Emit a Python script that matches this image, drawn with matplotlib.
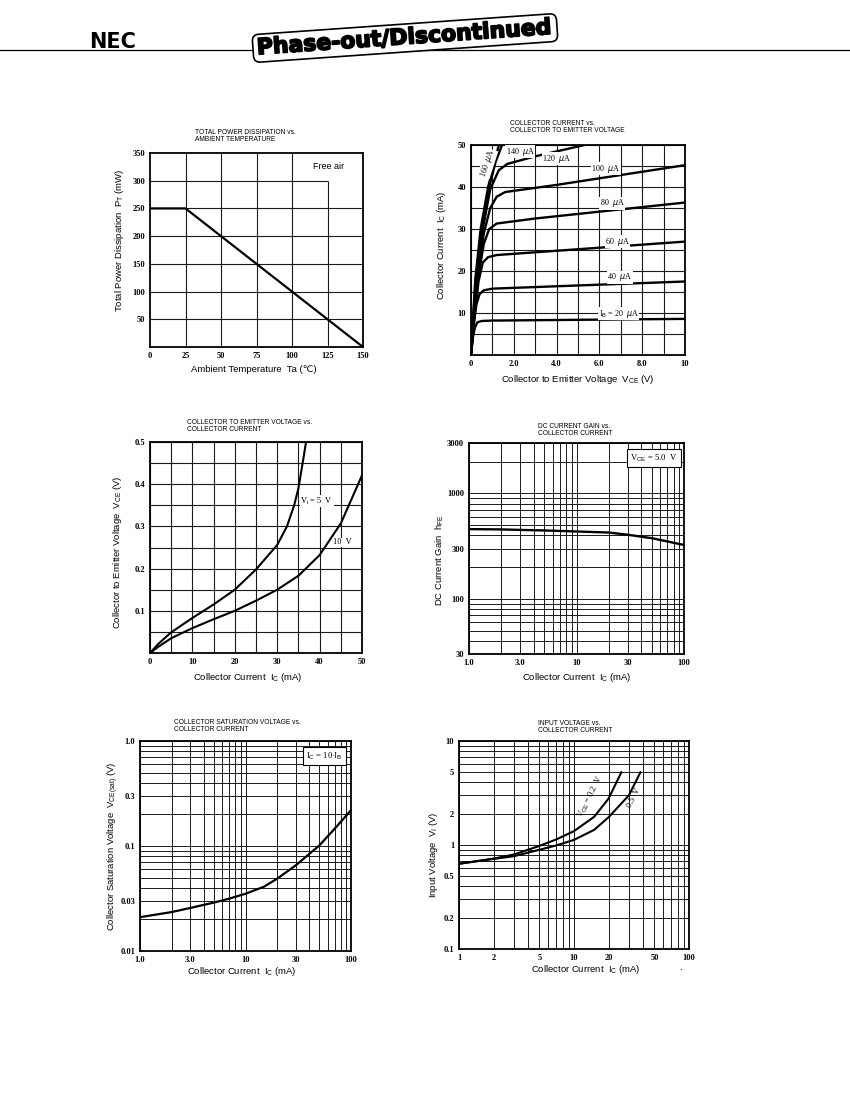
import numpy as np
import matplotlib
matplotlib.use('Agg')
import matplotlib.pyplot as plt
import matplotlib.patheffects as pe

plt.rcParams['font.family'] = ['Liberation Serif', 'DejaVu Serif']
plt.rcParams['mathtext.fontset'] = 'custom'
plt.rcParams['mathtext.rm'] = 'Liberation Sans'

# --- data ---
# total power dissipation vs ambient temperature
ta = [0, 25, 150]
pt = [250, 250, 0]

# collector current vs VCE, one curve per base current
vce_20 = [0, 0.08, 0.18, 0.3, 0.5, 1.0, 10]
ic_20 = [0, 4, 6.5, 7.8, 8.1, 8.2, 8.6]
vce_40 = [0, 0.12, 0.25, 0.4, 0.6, 1.0, 10]
ic_40 = [0, 7, 12, 14.5, 15.4, 15.8, 17.5]
vce_60 = [0, 0.15, 0.35, 0.55, 0.8, 1.2, 10]
ic_60 = [0, 8.5, 17.5, 22, 23.3, 23.8, 27]
vce_80 = [0, 0.15, 0.35, 0.6, 0.85, 1.2, 3, 10]
ic_80 = [0, 9, 19, 26.5, 30, 31.3, 32.5, 36.3]
vce_100 = [0, 0.12, 0.3, 0.6, 0.9, 1.2, 1.6, 4, 10]
ic_100 = [0, 8.5, 19, 29, 35, 37.7, 38.8, 40.5, 45.2]
vce_120 = [0, 0.12, 0.25, 0.55, 0.9, 1.3, 1.7, 3, 5.3]
ic_120 = [0, 9, 18, 30, 39.5, 44, 45.5, 47.3, 50]
vce_140 = [0, 0.1, 0.22, 0.5, 0.85, 1.15, 1.45]
ic_140 = [0, 8.5, 18, 30, 40, 46, 50]
vce_160 = [0, 0.1, 0.2, 0.45, 0.8, 1.05, 1.3]
ic_160 = [0, 9, 18, 30, 40, 45, 50]
ib_labels = ['I$_{\\rm B}$ = 20  $\\mu$A', '40  $\\mu$A', '60  $\\mu$A', '80  $\\mu$A',
             '100  $\\mu$A', '120  $\\mu$A', '140  $\\mu$A', '160  $\\mu$A']

# VCE vs collector current
ic3_5 = [0, 2, 5, 10, 15, 20, 25, 30, 32.3, 34, 35, 36, 36.8]
vce3_5 = [0, 0.022, 0.049, 0.083, 0.115, 0.15, 0.198, 0.256, 0.3, 0.35, 0.39, 0.45, 0.5]
ic3_10 = [0, 2, 5, 10, 15, 20, 25, 30, 35, 40, 45, 50]
vce3_10 = [0, 0.015, 0.035, 0.059, 0.08, 0.1, 0.124, 0.15, 0.183, 0.232, 0.307, 0.421]

# DC current gain
ic4 = [1, 2, 3, 5, 10, 20, 30, 50, 70, 100]
hfe = [458, 455, 450, 445, 435, 425, 405, 376, 350, 324]

# collector saturation voltage
ic5 = [1, 2, 3, 5, 7, 10, 15, 20, 30, 50, 70, 100]
vsat = [0.021, 0.0235, 0.0257, 0.0289, 0.0315, 0.0351, 0.041, 0.0489, 0.0655, 0.101, 0.146, 0.219]

# input voltage
ic6_02 = [1, 2, 3, 5, 7, 10, 15, 20, 25.8]
vi_02 = [0.66, 0.74, 0.81, 0.98, 1.13, 1.36, 1.87, 2.8, 5.0]
ic6_05 = [1, 2, 3, 5, 7, 10, 15, 20, 30, 37.8]
vi_05 = [0.66, 0.735, 0.78, 0.9, 0.99, 1.12, 1.4, 1.85, 3.0, 5.0]

W, H = 850, 1100
fig = plt.figure(figsize=(8.5, 11), dpi=100)


def rect(l, t, r, b):
    return [l / W, 1 - b / H, (r - l) / W, (b - t) / H]


def ftext(x, y, s, **kw):
    fig.text(x / W, 1 - y / H, s, **kw)


lab = dict(family=['Liberation Sans', 'DejaVu Sans'], fontsize=6.8, weight='normal')
ttl = dict(family=['Liberation Sans', 'DejaVu Sans'], fontsize=4.8,
           weight='normal', va='top', ha='left', linespacing=1.0)
GC = '#1a1a1a'


def style(ax):
    for s in ax.spines.values():
        s.set_linewidth(1.3)
    ax.tick_params(which='both', length=0, pad=3.5)
    for t in ax.get_xticklabels() + ax.get_yticklabels():
        t.set_fontfamily('Liberation Serif')
        t.set_fontsize(6)
        t.set_fontweight('bold')


# header
fig.add_artist(plt.Line2D([0, 1], [1 - 50 / H, 1 - 50 / H], color='black', lw=0.9))
ftext(113, 42, 'NEC', family='DejaVu Sans', fontsize=15, weight='bold',
      ha='center', va='center')
ftext(405, 38, 'Phase-out/Discontinued', family='DejaVu Sans',
      fontsize=15.8, weight='bold', ha='center', va='center', rotation=4,
      bbox=dict(boxstyle='round,pad=0.18,rounding_size=0.3', fc='white', ec='black', lw=1.2),
      path_effects=[pe.withStroke(linewidth=1.3, foreground='black')])

# 1: total power dissipation
ax = fig.add_axes(rect(150, 153, 363, 347))
ax.set_xlim(0, 150)
ax.set_ylim(0, 350)
xt1 = [0, 25, 50, 75, 100, 125, 150]
yt1 = [50, 100, 150, 200, 250, 300, 350]
ax.set_xticks(xt1)
ax.set_yticks(yt1)
ax.vlines(xt1[1:5], 0, 350, color=GC, lw=0.8)
ax.vlines(xt1[5], 0, 300, color=GC, lw=0.8)
ax.hlines(yt1[:5], 0, 150, color=GC, lw=0.8)
ax.hlines(yt1[5], 0, 125, color=GC, lw=0.8)
ax.plot(ta, pt, color='black', lw=1.6)
ax.text(126, 326, 'Free air', family='Liberation Sans', fontsize=6.5, ha='center', va='center')
style(ax)
ftext(195, 129, 'TOTAL POWER DISSIPATION vs.\nAMBIENT TEMPERATURE', **ttl)
ftext(120, 240, 'Total Power Dissipation  P$_{\\rm T}$ (mW)', rotation=90, ha='center', va='center', **lab)
ftext(254, 369, 'Ambient Temperature  Ta (\u2103)', ha='center', va='center', **lab)

# 2: collector current vs collector to emitter voltage
ax = fig.add_axes(rect(471, 145, 685, 355))
ax.set_xlim(0, 10)
ax.set_ylim(0, 50)
ax.set_xticks([0, 2, 4, 6, 8, 10], ['0', '2.0', '4.0', '6.0', '8.0', '10'])
ax.set_yticks([10, 20, 30, 40, 50])
ax.set_xticks(np.arange(1, 10), minor=True)
ax.set_yticks(np.arange(5, 50, 5), minor=True)
ax.grid(True, which='both', color=GC, lw=0.8)
curves2 = [(vce_20, ic_20), (vce_40, ic_40), (vce_60, ic_60), (vce_80, ic_80),
           (vce_100, ic_100), (vce_120, ic_120), (vce_140, ic_140), (vce_160, ic_160)]
for vx, iy in curves2:
    ax.plot(vx, iy, color='black', lw=1.7)
lpos2 = [(6.9, 9.8, 0), (6.95, 18.5, 0), (6.85, 27, 0), (6.6, 36.1, 0),
         (6.3, 44.4, 0), (4.0, 46.7, 0), (2.3, 48.4, 0), (0.78, 45.6, 72)]
for (lx, ly, rot), s in zip(lpos2, ib_labels):
    ax.text(lx, ly, s, fontsize=5.8, ha='center', va='center', rotation=rot,
            bbox=dict(fc='white', ec='none', pad=0.3))
style(ax)
ftext(510, 120, 'COLLECTOR CURRENT vs.\nCOLLECTOR TO EMITTER VOLTAGE', **ttl)
ftext(442, 245, 'Collector Current  I$_{\\rm C}$ (mA)', rotation=90, ha='center', va='center', **lab)
ftext(578, 380, 'Collector to Emitter Voltage  V$_{\\rm CE}$ (V)', ha='center', va='center', **lab)

# 3: VCE vs collector current
ax = fig.add_axes(rect(150, 442, 362, 653))
ax.set_xlim(0, 50)
ax.set_ylim(0, 0.5)
ax.set_xticks([0, 10, 20, 30, 40, 50])
ax.set_yticks([0.1, 0.2, 0.3, 0.4, 0.5], ['0.1', '0.2', '0.3', '0.4', '0.5'])
ax.set_xticks(np.arange(5, 50, 10), minor=True)
ax.set_yticks(np.arange(0.05, 0.5, 0.1), minor=True)
ax.grid(True, which='both', color=GC, lw=0.8)
ax.plot(ic3_5, vce3_5, color='black', lw=1.5)
ax.plot(ic3_10, vce3_10, color='black', lw=1.5)
ax.text(39.3, 0.36, 'V$_{\\rm i}$ = 5  V', fontsize=6, ha='center', va='center',
        bbox=dict(fc='white', ec='none', pad=0.3))
ax.text(45.3, 0.262, '10  V', fontsize=6, ha='center', va='center',
        bbox=dict(fc='white', ec='none', pad=0.3))
style(ax)
ftext(187, 419, 'COLLECTOR TO EMITTER VOLTAGE vs.\nCOLLECTOR CURRENT', **ttl)
ftext(118, 552, 'Collector to Emitter Voltage  V$_{\\rm CE}$ (V)', rotation=90, ha='center', va='center', **lab)
ftext(248, 677, 'Collector Current  I$_{\\rm C}$ (mA)', ha='center', va='center', **lab)


def loggrid(ax, xlim, ylim, xt, xl, yt, yl):
    ax.set_xscale('log')
    ax.set_yscale('log')
    ax.set_xlim(*xlim)
    ax.set_ylim(*ylim)
    ax.set_xticks(xt, xl)
    ax.set_yticks(yt, yl)
    xm = [m * d for d in [1, 10] for m in range(2, 10)]
    ym = [m * 10.0 ** e for e in range(-3, 4) for m in range(2, 10)]
    ax.set_xticks([v for v in xm if xlim[0] < v < xlim[1]], minor=True)
    ax.set_yticks([v for v in ym if ylim[0] < v < ylim[1]], minor=True)
    ax.set_xticklabels([], minor=True)
    ax.set_yticklabels([], minor=True)
    ax.grid(True, which='both', color=GC, lw=0.7)


# 4: DC current gain
ax = fig.add_axes(rect(469, 443, 684, 654))
loggrid(ax, (1, 100), (30, 3000), [1, 3, 10, 30, 100], ['1.0', '3.0', '10', '30', '100'],
        [30, 100, 300, 1000, 3000], ['30', '100', '300', '1000', '3000'])
ax.plot(ic4, hfe, color='black', lw=1.7)
ax.text(0.97, 0.955, 'V$_{\\rm CE}$ = 5.0  V', transform=ax.transAxes, fontsize=6.2,
        ha='right', va='top', bbox=dict(fc='white', ec='black', lw=0.8, pad=2.5))
style(ax)
ftext(538, 423, 'DC CURRENT GAIN vs.\nCOLLECTOR CURRENT', **ttl)
ftext(440, 560, 'DC Current Gain  h$_{\\rm FE}$', rotation=90, ha='center', va='center', **lab)
ftext(577, 677, 'Collector Current  I$_{\\rm C}$ (mA)', ha='center', va='center', **lab)

# 5: collector saturation voltage
ax = fig.add_axes(rect(140, 741, 351, 951))
loggrid(ax, (1, 100), (0.01, 1), [1, 3, 10, 30, 100], ['1.0', '3.0', '10', '30', '100'],
        [0.01, 0.03, 0.1, 0.3, 1], ['0.01', '0.03', '0.1', '0.3', '1.0'])
ax.plot(ic5, vsat, color='black', lw=1.6)
ax.text(0.96, 0.955, 'I$_{\\rm C}$ = 10$\\cdot$I$_{\\rm B}$', transform=ax.transAxes, fontsize=6.2,
        ha='right', va='top', bbox=dict(fc='white', ec='black', lw=0.8, pad=2.5))
style(ax)
ftext(174, 719, 'COLLECTOR SATURATION VOLTAGE vs.\nCOLLECTOR CURRENT', **ttl)
ftext(113, 846, 'Collector Saturation Voltage  V$_{\\rm CE(sat)}$ (V)', rotation=90, ha='center', va='center', **lab)
ftext(242, 972, 'Collector Current  I$_{\\rm C}$ (mA)', ha='center', va='center', **lab)

# 6: input voltage
ax = fig.add_axes(rect(459, 741, 689, 949))
loggrid(ax, (1, 100), (0.1, 10), [1, 2, 5, 10, 20, 50, 100], ['1', '2', '5', '10', '20', '50', '100'],
        [0.1, 0.2, 0.5, 1, 2, 5, 10], ['0.1', '0.2', '0.5', '1', '2', '5', '10'])
ax.plot(ic6_02, vi_02, color='black', lw=1.5)
ax.plot(ic6_05, vi_05, color='black', lw=1.5)
ax.text(13.8, 2.9, 'V$_{\\rm CE}$ = 0.2  V', fontsize=6, ha='center', va='center', rotation=63)
ax.text(33.5, 2.85, '0.5  V', fontsize=6, ha='center', va='center', rotation=63)
style(ax)
ftext(538, 720, 'INPUT VOLTAGE vs.\nCOLLECTOR CURRENT', **ttl)
ftext(433, 855, 'Input Voltage  V$_{\\rm I}$ (V)', rotation=90, ha='center', va='center', **lab)
ftext(586, 969, 'Collector Current  I$_{\\rm C}$ (mA)', ha='center', va='center', **lab)
ftext(680, 968, '.', ha='center', va='center', **lab)

fig.savefig('out.png', dpi=100)
